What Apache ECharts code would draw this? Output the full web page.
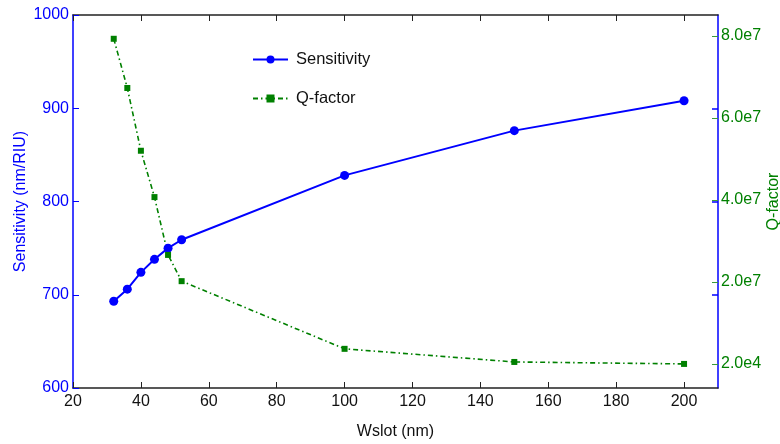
<!DOCTYPE html>
<html>
<head>
<meta charset="utf-8">
<script src="https://cdn.jsdelivr.net/npm/echarts@6/dist/echarts.min.js"></script>
<style>html,body{margin:0;padding:0;background:#fff}#c{width:780px;height:444px}</style>
</head>
<body>
<div id="c"></div>
<script>
var wslot = [32, 36, 40, 44, 48, 52, 100, 150, 200];
var sensitivity = [693, 706, 724, 738, 750, 759, 828, 876, 908];
var qfactor = [7.93e7, 6.73e7, 5.20e7, 4.07e7, 2.66e7, 2.02e7, 3.7e6, 5.0e5, 2.0e4];
var xTicks = [20, 40, 60, 80, 100, 120, 140, 160, 180, 200];
var leftTicks = [600, 700, 800, 900, 1000];
var qTickValues = [2e4, 2e7, 4e7, 6e7, 8e7];
var qTickLabels = ['2.0e4', '2.0e7', '4.0e7', '6.0e7', '8.0e7'];

var BLUE = '#0000ff', GREEN = '#008000', FONT = "'Liberation Sans', Arial, sans-serif";

function pairs(xs, ys) { return xs.map(function (x, i) { return [x, ys[i]]; }); }

var chart = echarts.init(document.getElementById('c'));
chart.setOption({
  animation: false,
  textStyle: { fontFamily: FONT },
  grid: { left: 73, right: 62, top: 15, bottom: 56, containLabel: false, outerBoundsMode: 'none' },
  legend: {
    orient: 'vertical', left: 247, top: 46, itemGap: 22,
    itemWidth: 35, itemHeight: 10,
    textStyle: { fontSize: 16.5, color: '#111', fontFamily: FONT, padding: [0, 0, 0, 3] },
    data: ['Sensitivity', 'Q-factor']
  },
  xAxis: [{
    type: 'value', min: 20, max: 210, interval: 20, position: 'bottom',
    name: 'Wslot (nm)', nameLocation: 'middle', nameGap: 36, nameMoveOverlap: false,
    nameTextStyle: { fontSize: 16, color: '#111', fontFamily: FONT },
    axisLine: { onZero: false, lineStyle: { color: '#222', width: 1.5 } },
    axisTick: { inside: true, length: 6, lineStyle: { color: '#222' }, customValues: xTicks },
    axisLabel: { fontSize: 16, color: '#111', margin: 6, fontFamily: FONT,
      customValues: xTicks, formatter: function (v) { return String(v); } },
    splitLine: { show: false }
  }, {
    type: 'value', min: 20, max: 210, interval: 20, position: 'top',
    axisLine: { onZero: false, lineStyle: { color: '#222', width: 1.5 } },
    axisTick: { inside: true, length: 6, lineStyle: { color: '#222' }, customValues: xTicks },
    axisLabel: { show: false }, splitLine: { show: false }
  }],
  yAxis: [{
    type: 'value', min: 600, max: 1000, interval: 100, position: 'left',
    name: 'Sensitivity (nm/RIU)', nameLocation: 'middle', nameGap: 44, nameRotate: 90, nameMoveOverlap: false,
    nameTextStyle: { fontSize: 16, color: BLUE, fontFamily: FONT },
    axisLine: { show: true, onZero: false, lineStyle: { color: BLUE, width: 1.5 } },
    axisTick: { inside: true, length: 6, lineStyle: { color: BLUE } },
    axisLabel: { fontSize: 16, color: BLUE, margin: 4, fontFamily: FONT,
      formatter: function (v) { return String(v); } },
    splitLine: { show: false }
  }, {
    type: 'value', min: -5.85e6, max: 8.51e7, position: 'right',
    name: 'Q-factor', nameLocation: 'middle', nameGap: 48, nameRotate: 90, nameMoveOverlap: false,
    nameTextStyle: { fontSize: 16, color: GREEN, fontFamily: FONT },
    axisLine: { show: true, onZero: false, lineStyle: { color: BLUE, width: 1.5 } },
    axisTick: { show: true, inside: true, length: 6, lineStyle: { color: '#3a9a3a' }, customValues: qTickValues },
    axisLabel: { fontSize: 16, color: GREEN, margin: 3, fontFamily: FONT, customValues: qTickValues,
      formatter: function (v) {
        var best = 0;
        for (var i = 0; i < qTickValues.length; i++) {
          if (Math.abs(qTickValues[i] - v) < Math.abs(qTickValues[best] - v)) best = i;
        }
        return qTickLabels[best];
      } },
    splitLine: { show: false }
  }, {
    type: 'value', min: 600, max: 1000, interval: 100, position: 'right',
    axisLine: { show: false, onZero: false },
    axisTick: { show: true, inside: true, length: 6, lineStyle: { color: BLUE, width: 1.5 }, customValues: leftTicks.slice(1, 4) },
    axisLabel: { show: false }, splitLine: { show: false }
  }],
  series: [{
    name: 'Sensitivity', type: 'line', xAxisIndex: 0, yAxisIndex: 0,
    data: pairs(wslot, sensitivity),
    symbol: 'circle', symbolSize: 9,
    lineStyle: { color: BLUE, width: 2 },
    itemStyle: { color: BLUE }
  }, {
    name: 'Q-factor', type: 'line', xAxisIndex: 0, yAxisIndex: 1,
    data: pairs(wslot, qfactor),
    symbol: 'rect', symbolSize: 6,
    lineStyle: { color: GREEN, width: 1.6, type: [5, 3, 1.5, 3] },
    itemStyle: { color: GREEN }
  }]
});
</script>
</body>
</html>
